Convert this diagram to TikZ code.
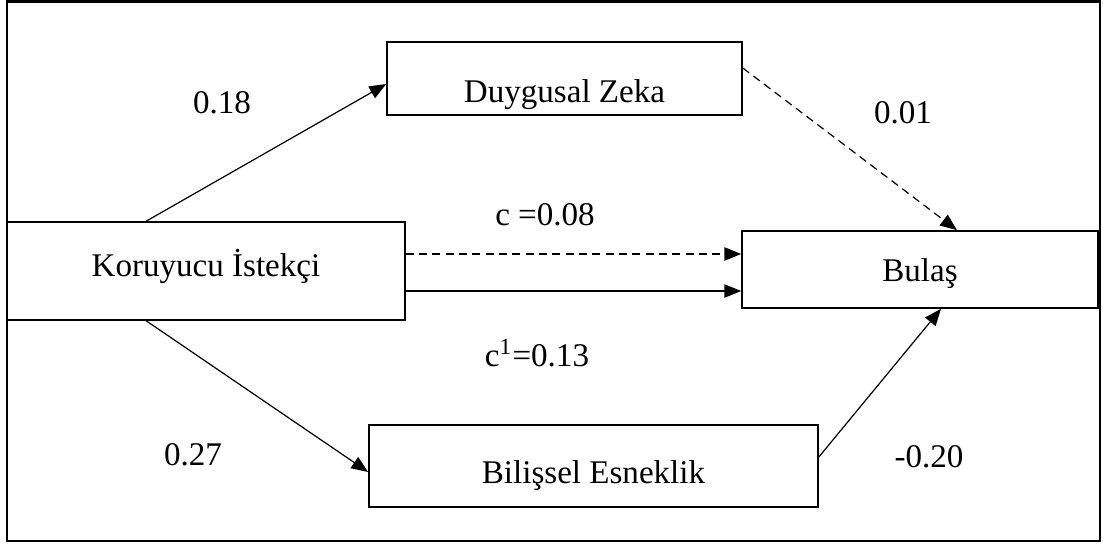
\documentclass[tikz,border=0pt]{standalone}
\usepackage{fontspec}
\setmainfont{Liberation Serif}
\usetikzlibrary{arrows.meta, calc, positioning}

\begin{document}
\begin{tikzpicture}[x=0.375pt, y=-0.375pt, font=\fontsize{12.4}{14}\selectfont, >={Triangle[length=6.3pt,width=5pt]}]
        \tikzstyle{box}=[draw, rectangle, line width=0.6pt, inner sep=0pt, text height=8pt, text depth=3pt]
        \tikzstyle{path_arrow}=[->, line width=0.45pt]
        \tikzstyle{dash_path}=[dash pattern=on 3pt off 2pt]
        \tikzstyle{weight}=[inner sep=0pt]

        % Outer frame
        \useasboundingbox (0,0) rectangle (1103,544);
        \draw[line width=1.1pt] (7,1.5) rectangle (1100,541);

        % Variables
        \node[box, minimum width=149.25pt, minimum height=36.75pt, text depth=4.2pt] (kor) at (206,271) {Koruyucu İstekçi};
        \node[box, minimum width=133.1pt, minimum height=27.4pt, text height=21pt] (duy) at (564.5,78.5) {Duygusal Zeka};
        \node[box, minimum width=133.5pt, minimum height=28.9pt, text height=12pt] (bul) at (920,269.5) {Bulaş};
        \node[box, minimum width=168.4pt, minimum height=30.75pt, text height=15.8pt] (bil) at (593.5,466) {Bilişsel Esneklik};

        % Paths into the mediators
        \draw[path_arrow] ($(kor.north west)+(140,0)$) -- ($(duy.west)+(0,5.5)$);
        \draw[path_arrow] ($(kor.south west)+(140,0)$) -- ($(bil.west)+(0,6)$);

        % Paths out of the mediators
        \draw[path_arrow, dash_path] ($(duy.east)+(0,-10.5)$) -- ($(bul.north)+(37,0)$);
        \draw[path_arrow] ($(bil.east)+(0,-9)$) -- ($(bul.south)+(21,0)$);

        % Direct paths
        \coordinate (c_top) at ($(kor.east)+(0,-17)$);
        \coordinate (c_bot) at ($(kor.east)+(0,20)$);
        \draw[path_arrow, dash_path] (c_top) -- (c_top -| bul.west);
        \draw[path_arrow] (c_bot) -- (c_bot -| bul.west);

        % Coefficients
        \node[weight] (w_kd) at (222,103) {0.18};
        \node[weight] (w_db) at (903,113) {0.01};
        \node[weight] (w_c) at (545,215) {c =0.08};
        \node[weight] (w_c1) at (537,353) {c\textsuperscript{1}=0.13};
        \node[weight] (w_kb) at (193,455) {0.27};
        \node[weight] (w_bb) at (929,457) {-0.20};
\end{tikzpicture}
\end{document}
